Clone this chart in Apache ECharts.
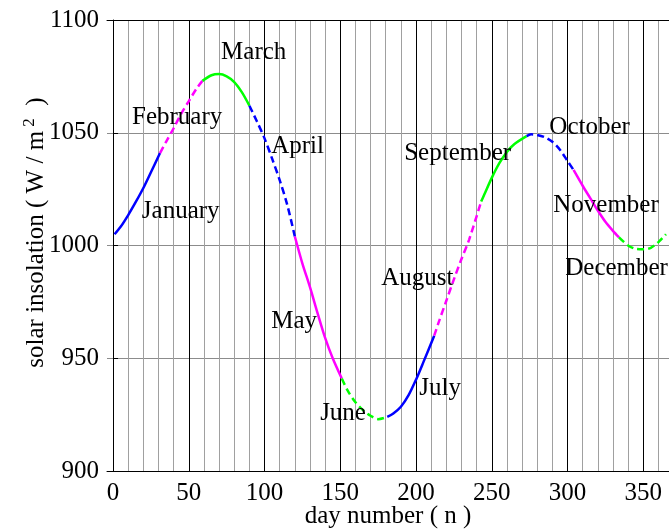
<!DOCTYPE html>
<html>
<head>
<meta charset="utf-8">
<script src="https://cdn.jsdelivr.net/npm/echarts@6/dist/echarts.min.js"></script>
<style>
html,body{margin:0;padding:0;background:#fff;}
#chart{width:669px;height:531px;}
</style>
</head>
<body>
<div id="chart"></div>
<script>
// Day numbers sampled along the curve
var days = [1,5,10,15,20,25,31,35,40,45,50,55,59,65,70,75,80,85,90,95,100,105,110,115,120,125,130,135,140,145,151,155,160,165,170,175,181,185,190,195,200,205,212,215,220,225,230,235,243,245,250,255,260,265,273,276,280,285,290,295,300,304,310,315,320,325,330,334,340,345,350,355,360,365];
// Solar insolation (W/m^2)
var insolation = [1005,1008.3,1013.5,1019.3,1025.5,1032.5,1041,1046,1052,1058.5,1064,1069.5,1073,1075.5,1076,1075,1072.5,1068,1062,1055,1047.5,1038.5,1029,1018,1004,992,981.5,970,959,950,941,935.5,930.5,927,924.5,923,924,925.5,928.5,933.5,940.5,948.5,960,966,975.5,985,994,1002.5,1019.5,1022.5,1030,1036.5,1041.5,1045,1048.5,1049.3,1049,1048,1046,1042.5,1037.5,1033.5,1026.5,1021,1015.5,1010.5,1006.5,1003.6,1000,998.5,998.3,999,1001.5,1005];
// Month names and the last day of each month
var months = ['January','February','March','April','May','June','July','August','September','October','November','December'];
var monthEnds = [31,59,90,120,151,181,212,243,273,304,334,365];
// Month label anchors (day, value) where each label is written
var labelDays = [19,12.5,71.3,104.4,104.4,136.7,202.1,177,192.2,288,290.6,298.5];
var labelValues = [1015.3,1057,1085.8,1044.1,966.5,925.7,936.8,985.6,1041,1052.5,1017.9,990];
// Axis tick labels
var xTicks = [0,50,100,150,200,250,300,350];
var yTicks = [900,950,1000,1050,1100];

var colors = ['#0000ff','#ff00ff','#00ff00'];
var FONT = '"Liberation Serif", "Times New Roman", serif';
var FS = 25;
var XMIN = -4, XMAX = 367;

var series = [];
var start = 1;
for (var m = 0; m < 12; m++) {
  var pts = [];
  for (var i = 0; i < days.length; i++) {
    if (days[i] >= start && days[i] <= monthEnds[m]) pts.push([days[i], insolation[i]]);
  }
  var dashed = (m % 2 === 1);
  series.push({
    type: 'line',
    name: months[m],
    data: pts,
    smooth: 0.3,
    symbol: 'none',
    silent: true,
    z: 5,
    lineStyle: {
      color: colors[m % 3],
      width: 2.5,
      type: dashed ? [7, 4] : 'solid'
    }
  });
  start = monthEnds[m];
}

// vertical grid line colours, one per integer day tick
var vColors = [];
for (var v = XMIN; v <= XMAX; v++) {
  if (v > 0 && v % 50 === 0) vColors.push('#000000');
  else if (v > 0 && v % 10 === 0) vColors.push('#a0a0a0');
  else vColors.push('rgba(0,0,0,0)');
}

var option = {
  animation: false,
  backgroundColor: '#fff',
  grid: { left: 107, right: 0, top: 20, bottom: 60, containLabel: false, outerBoundsMode: 'none' },
  xAxis: [{
    type: 'value',
    min: XMIN, max: XMAX, interval: 1,
    name: 'day number ( n )',
    nameLocation: 'middle',
    nameGap: 33,
    nameMoveOverlap: false,
    nameTextStyle: { fontFamily: FONT, fontSize: FS, color: '#000' },
    axisLine: { show: true, onZero: false, lineStyle: { color: '#000', width: 1 } },
    axisTick: { show: false },
    axisLabel: {
      fontFamily: FONT, fontSize: FS, color: '#000', margin: 10,
      showMinLabel: false, showMaxLabel: false,
      formatter: function (val) { return xTicks.indexOf(val) >= 0 ? String(val) : ''; }
    },
    splitLine: { show: true, lineStyle: { color: vColors, width: 1 } }
  }, {
    type: 'value', position: 'top',
    min: XMIN, max: XMAX,
    axisLine: { show: true, onZero: false, lineStyle: { color: '#000', width: 1 } },
    axisTick: { show: false }, axisLabel: { show: false }, splitLine: { show: false }
  }],
  yAxis: {
    type: 'value',
    min: yTicks[0], max: yTicks[yTicks.length - 1], interval: 50,
    name: '{n|solar insolation ( W / m}{s| 2}{n|  )}',
    nameLocation: 'middle',
    nameGap: 56,
    nameMoveOverlap: false,
    nameTextStyle: {
      fontFamily: FONT, fontSize: FS, color: '#000',
      padding: [0, 0, 0, 26],
      rich: {
        n: { fontFamily: FONT, fontSize: FS, color: '#000', lineHeight: 30 },
        s: { fontFamily: FONT, fontSize: 17, color: '#000', lineHeight: 30, verticalAlign: 'top', padding: [0, 0, 12, 0] }
      }
    },
    axisLine: { show: true, lineStyle: { color: '#000', width: 1 } },
    axisTick: { show: true, inside: true, length: 5, lineStyle: { color: '#000' } },
    axisLabel: {
      fontFamily: FONT, fontSize: FS, color: '#000', margin: 8,
      formatter: function (val) { return String(val); }
    },
    splitLine: { show: true, lineStyle: { color: '#8c8c8c', width: 1 } }
  },
  series: series
};

var chart = echarts.init(document.getElementById('chart'), null, { renderer: 'canvas' });
chart.setOption(option);

// month labels placed through the chart's own scales
var texts = [];
for (var k = 0; k < months.length; k++) {
  var p = chart.convertToPixel({ xAxisIndex: 0, yAxisIndex: 0 }, [labelDays[k], labelValues[k]]);
  texts.push({
    type: 'text', x: p[0], y: p[1], z: 10, silent: true,
    style: { text: months[k], fill: '#000', font: FS + 'px ' + FONT, textVerticalAlign: 'middle', verticalAlign: 'middle', align: 'left' }
  });
}
chart.setOption({ graphic: texts });
</script>
</body>
</html>
